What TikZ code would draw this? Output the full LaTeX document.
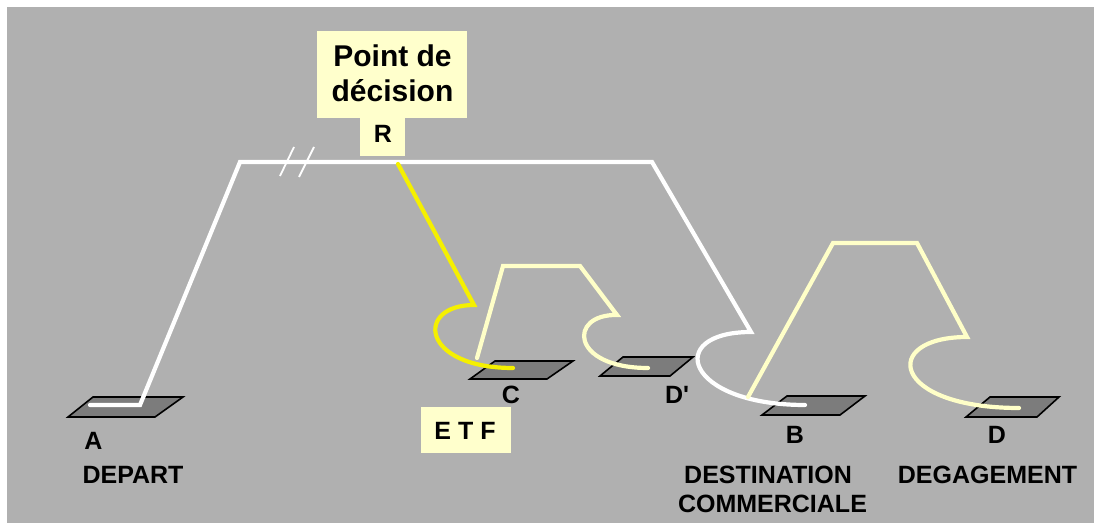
\documentclass[tikz,border=0pt]{standalone}
\usepackage{fontspec}
\setmainfont{Liberation Sans}[Ligatures=TeXOff]
\definecolor{panel}{RGB}{176,176,176}
\definecolor{cream}{RGB}{255,255,200}
\definecolor{labelbg}{RGB}{255,255,204}
\definecolor{bright}{RGB}{245,240,0}
\definecolor{padfill}{RGB}{124,124,124}
\tikzset{
  route/.style={line width=4.2pt, line cap=round, line join=miter},
  whiteroute/.style={route, draw=white},
  creamroute/.style={route, draw=cream},
  yellowroute/.style={route, draw=bright},
  breakmark/.style={draw=white, line width=1.8pt},
  padshape/.style={draw=black, line width=1.6pt, fill=padfill, line join=miter},
  tagbox/.style={fill=labelbg, draw=none, inner sep=0pt},
  tag/.style={font=\bfseries\fontsize{25}{29}\selectfont, text=black, inner sep=0pt, anchor=base},
  bigtag/.style={tag, font=\bfseries\fontsize{30}{35}\selectfont},
}
\begin{document}
\begin{tikzpicture}[x=1pt,y=-1pt]
  % canvas
  \useasboundingbox (0,0) rectangle (1094,526);
  \fill[white] (0,0) rectangle (1094,526);
  \fill[panel] (7,7) rectangle (1094,523);

  % stands (parallelograms)
  \draw[padshape] (68,417) -- (155,417) -- (183,397) -- (93,397) -- cycle;
  \draw[padshape] (470,379) -- (547,379) -- (573,361) -- (495,361) -- cycle;
  \draw[padshape] (600,376) -- (670,376) -- (693,357) -- (623,357) -- cycle;
  \draw[padshape] (762,415) -- (840,415) -- (865,396) -- (787,396) -- cycle;
  \draw[padshape] (966,417) -- (1037,417) -- (1059,397) -- (990,397) -- cycle;

  % route points
  \coordinate (a0) at (90,405);
  \coordinate (a1) at (140,405);
  \coordinate (w1) at (240,162);
  \coordinate (w2) at (652,162);
  \coordinate (w3) at (751,332);
  \coordinate (b0) at (805,405);

  \coordinate (r0) at (398,164);
  \coordinate (y1) at (474,305);
  \coordinate (c0) at (513,368);

  \coordinate (c1) at (477,358);
  \coordinate (k1) at (503,266);
  \coordinate (k2) at (580,266);
  \coordinate (k3) at (617,315);
  \coordinate (dp) at (648,368);

  \coordinate (b1) at (748,397);
  \coordinate (m1) at (833,243);
  \coordinate (m2) at (917,243);
  \coordinate (m3) at (967,337);
  \coordinate (d0) at (1019,408);

  % main route A -> B
  \draw[whiteroute] (a0) -- (a1) -- (w1) -- (w2) -- (w3)
        .. controls (664,332) and (684,405) .. (b0);
  % break marks
  \coordinate (s1a) at (280,176); \coordinate (s1b) at (294,147);
  \coordinate (s2a) at (299,177); \coordinate (s2b) at (314,147);
  \draw[breakmark] (s1a) -- (s1b);
  \draw[breakmark] (s2a) -- (s2b);

  % C -> D'
  \draw[creamroute] (c1) -- (k1) -- (k2) -- (k3)
        .. controls (568,314) and (570,368) .. (dp);
  % B -> D
  \draw[creamroute] (b1) -- (m1) -- (m2) -- (m3)
        .. controls (880,337) and (890,408) .. (d0);
  % R -> C
  \draw[yellowroute] (r0) -- (y1)
        .. controls (415,305) and (420,368) .. (c0);

  % label boxes
  \node[tagbox, minimum width=150pt, minimum height=87pt] (decbox) at (392,74.5) {};
  \node[tagbox, minimum width=45pt, minimum height=38pt] (rbox) at (382.5,137) {};
  \node[tagbox, minimum width=90pt, minimum height=46pt] (etfbox) at (466,430) {};

  % texts
  \node[bigtag] (dec1) at (392.5,67) {Point de};
  \node[bigtag] (dec2) at (392.5,102) {décision};
  \node[tag] (rlbl) at (383,143) {R};
  \node[tag] (etf) at (465,439) {E T F};
  \node[tag] (albl) at (93.5,449) {A};
  \node[tag] (dep) at (133,483) {DEPART};
  \node[tag] (clbl) at (511,403) {C};
  \node[tag] (dplbl) at (677,403) {D'};
  \node[tag] (blbl) at (795,443) {B};
  \node[tag] (dlbl) at (997,443) {D};
  \node[tag] (dest1) at (768,483) {DESTINATION};
  \node[tag] (dest2) at (772.5,512) {COMMERCIALE};
  \node[tag] (deg) at (987.5,483) {DEGAGEMENT};
\end{tikzpicture}
\end{document}
